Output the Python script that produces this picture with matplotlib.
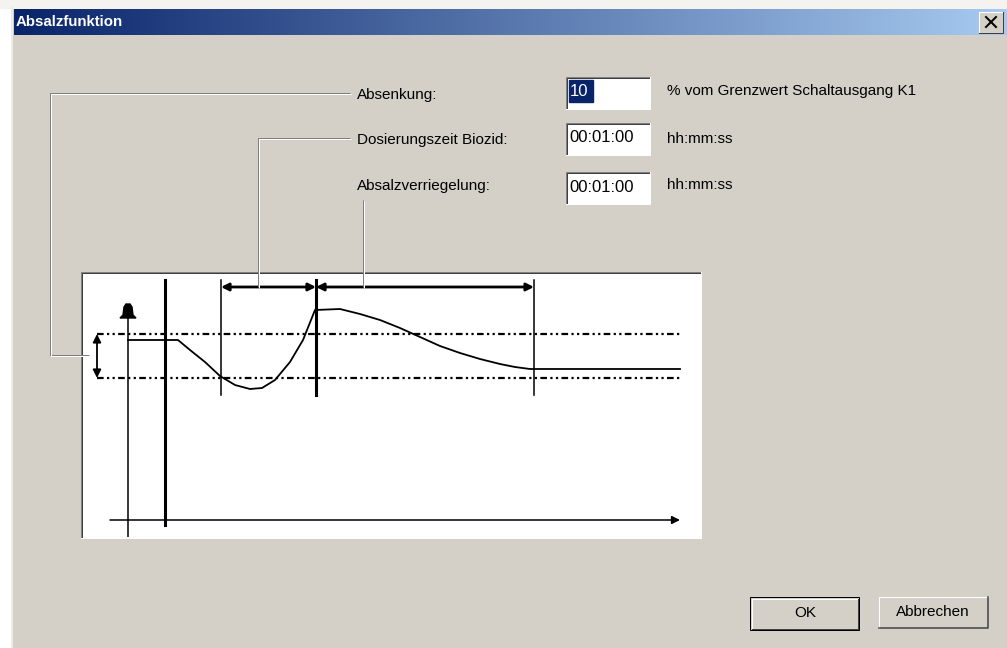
import numpy as np
import matplotlib
matplotlib.use('Agg')
from matplotlib import pyplot as plt
from matplotlib.patches import Rectangle, Polygon

plt.rcParams['font.family'] = ['Liberation Sans', 'DejaVu Sans']

W, H = 1007, 648
FACE = '#D4D0C8'

# dialog texts
title = 'Absalzfunktion'
labels = ['Absenkung:', 'Dosierungszeit Biozid:', 'Absalzverriegelung:']
values = ['10', '00:01:00', '00:01:00']
units = ['% vom Grenzwert Schaltausgang K1', 'hh:mm:ss', 'hh:mm:ss']
buttons = ['OK', 'Abbrechen']

# diagram data (diagram units: x = time, y = level)
curve_x = [48, 98, 110, 125, 140, 155, 170, 182, 195, 210, 223, 235,
           260, 280, 300, 320, 340, 360, 380, 400, 420, 435, 450, 600]
curve_y = [197, 197, 187, 175, 161, 152, 148, 149, 157, 175, 197, 227,
           228, 223, 217, 209, 200, 191, 184, 178, 173, 170, 168, 168]
limit_hi, limit_lo = 203, 159
t_start, t_dose, t_lock, t_end = 85, 141, 236, 454

fig = plt.figure(figsize=(W / 100, H / 100), dpi=100)
fig.patch.set_facecolor(FACE)

bg = fig.add_axes([0, 0, 1, 1])
bg.set_xlim(0, W)
bg.set_ylim(H, 0)
bg.axis('off')

px = 0.72  # one pixel in points

# outer frame
bg.add_patch(Rectangle((0, 0), 10, H, color='white', zorder=0))
bg.add_patch(Rectangle((0, 0), W, 8, color='#F4F3EF', zorder=0))
bg.plot([11.5, 11.5], [8, H], color='#EDEBE6', lw=2 * px)

# title bar gradient
grad = np.linspace(0, 1, 256).reshape(1, -1)
cmap = matplotlib.colors.LinearSegmentedColormap.from_list('tb', ['#0A246A', '#A6CAF0'])
bg.imshow(grad, cmap=cmap, extent=[14, W, 35, 9], aspect='auto', zorder=1)
bg.text(16, 22, title, color='white', fontsize=10.8, fontweight='bold', va='center', ha='left', zorder=2)

# close button
bg.add_patch(Rectangle((979, 12), 24, 21, facecolor=FACE, edgecolor='none', zorder=2))
bg.plot([979, 979, 1003], [33, 12, 12], color='white', lw=px, zorder=3)
bg.plot([979, 1003, 1003], [33, 33, 12], color='#404040', lw=px, zorder=3)
bg.plot([986, 996], [17, 27], color='black', lw=2 * px, zorder=3)
bg.plot([986, 996], [27, 17], color='black', lw=2 * px, zorder=3)


def etched(xs, ys):
    bg.plot(xs, ys, color='#808080', lw=px, zorder=5, solid_capstyle='butt')
    bg.plot(np.array(xs) + 1.2, np.array(ys) + 1.2, color='white', lw=px, zorder=5, solid_capstyle='butt')


def sunken(x0, y0, x1, y1):
    bg.add_patch(Rectangle((x0, y0), x1 - x0, y1 - y0, facecolor='white', edgecolor='none', zorder=2))
    bg.plot([x0, x0, x1], [y1, y0, y0], color='#808080', lw=px, zorder=3)
    bg.plot([x0 + 1, x0 + 1, x1 - 1], [y1 - 1, y0 + 1, y0 + 1], color='#404040', lw=px, zorder=3)
    bg.plot([x0, x1, x1], [y1, y1, y0], color='white', lw=px, zorder=3)


# labels, edit boxes, units
row_y = [95, 140, 186]
box_top = [77, 123, 172]
for i in range(3):
    bg.text(357, row_y[i], labels[i], fontsize=11, va='center', ha='left', color='black')
    sunken(566, box_top[i], 650, box_top[i] + 32)
    bg.text(667, row_y[i] - 4 if i == 0 else row_y[i] - 1, units[i], fontsize=11,
            va='center', ha='left', color='black')
    if i == 0:
        bg.add_patch(Rectangle((569, 80), 24, 22, color='#0A246A', zorder=4))
        bg.text(570, 91, values[i], fontsize=12, color='white', va='center', ha='left', zorder=5)
    else:
        bg.text(569, box_top[i] + 15, values[i], fontsize=12, color='black', va='center', ha='left', zorder=5)

# diagram frame
sunken(81, 272, 701, 538)

# buttons
bg.add_patch(Rectangle((750, 597), 109, 33, facecolor=FACE, edgecolor='black', lw=px, zorder=3))
bg.plot([751.5, 751.5, 857], [628, 598.5, 598.5], color='white', lw=px, zorder=4)
bg.plot([752, 857.5, 857.5], [628.5, 628.5, 599], color='#404040', lw=px, zorder=4)
bg.add_patch(Rectangle((879, 597), 109, 31, facecolor=FACE, edgecolor='none', zorder=3))
bg.plot([879, 879, 988], [628, 597, 597], color='white', lw=px, zorder=4)
bg.plot([879, 988, 988], [628, 628, 597], color='#404040', lw=1.5 * px, zorder=4)
bg.text(805, 613, buttons[0], fontsize=11, ha='center', va='center', zorder=5)
bg.text(933, 612, buttons[1], fontsize=11, ha='center', va='center', zorder=5)

# diagram axes: 80..700 px wide, 272..537 px tall
ax = fig.add_axes([80 / W, 1 - 537 / H, 620 / W, 265 / H])
ax.set_xlim(0, 620)
ax.set_ylim(0, 265)
ax.axis('off')

# limit band (dash-dot-dot)
dash = (0, (3, 1.5, 1, 1.5, 1, 1.5))
ax.plot([17, 600], [limit_hi, limit_hi], color='black', lw=1.6, linestyle=dash)
ax.plot([17, 600], [limit_lo, limit_lo], color='black', lw=1.6, linestyle=dash)
ax.annotate('', xy=(17, limit_hi), xytext=(17, limit_lo),
            arrowprops=dict(arrowstyle='<|-|>', color='black', lw=1.3, mutation_scale=12, shrinkA=0, shrinkB=0))

# axes of the sketch
ax.plot([48, 48], [-5, 228], color='black', lw=1.1)
ax.add_patch(Polygon([[40, 219], [56, 219], [53, 222], [52, 230], [50, 233], [46, 233], [44, 230], [43, 222]],
                     closed=True, color='black'))
ax.annotate('', xy=(600, 17), xytext=(30, 17),
            arrowprops=dict(arrowstyle='-|>', color='black', lw=1.1, mutation_scale=12, shrinkA=0, shrinkB=0))

# time markers
ax.plot([t_start, t_start], [12, 257], color='black', lw=2.2)
ax.plot([t_dose, t_dose], [142, 257], color='black', lw=1.1)
ax.plot([t_lock, t_lock], [142, 257], color='black', lw=2.2)
ax.plot([t_end, t_end], [142, 257], color='black', lw=1.1)
for a, b in [(t_dose, t_lock), (t_lock, t_end)]:
    ax.annotate('', xy=(a, 250), xytext=(b, 250),
                arrowprops=dict(arrowstyle='<|-|>', color='black', lw=2, mutation_scale=11, shrinkA=0, shrinkB=0))

# curve
ax.plot(curve_x, curve_y, color='black', lw=1.3)

# leader lines on top
top = fig.add_axes([0, 0, 1, 1], zorder=10)
top.set_xlim(0, W)
top.set_ylim(H, 0)
top.axis('off')
bg = top
etched([350, 50, 50, 89], [93, 93, 355, 355])
etched([350, 258, 258], [138, 138, 287])
etched([363, 363], [200, 287])

fig.savefig('out.png', dpi=100, facecolor=FACE)
